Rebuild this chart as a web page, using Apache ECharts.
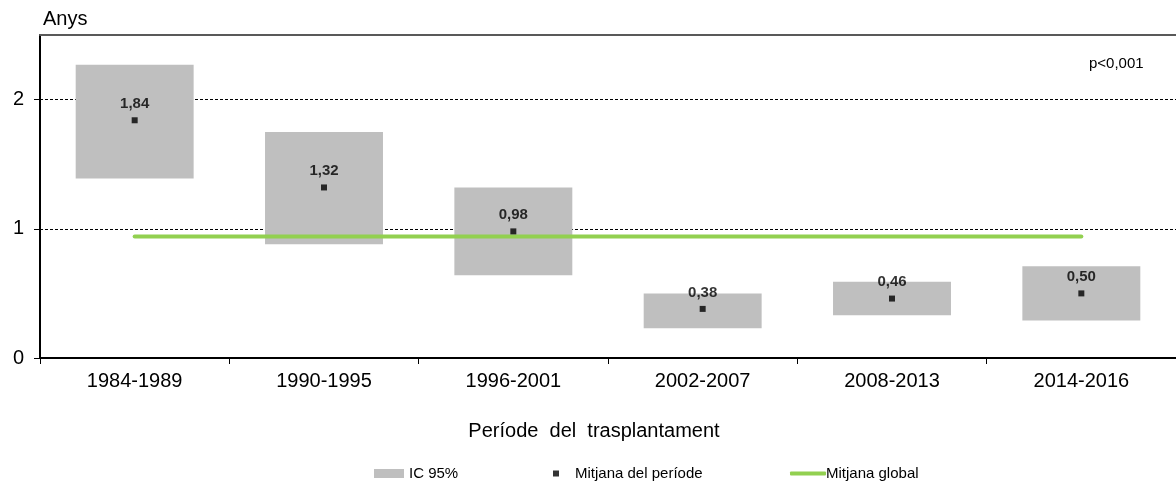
<!DOCTYPE html>
<html>
<head>
<meta charset="utf-8">
<script src="https://cdn.jsdelivr.net/npm/echarts@6/dist/echarts.min.js"></script>
<style>
  html, body { margin: 0; padding: 0; background: #fff; }
  #chart { width: 1176px; height: 487px; }
</style>
</head>
<body>
<div id="chart"></div>
<script>
// Transplant periods and mean time (years) with 95% confidence interval
const categories = ['1984-1989', '1990-1995', '1996-2001', '2002-2007', '2008-2013', '2014-2016'];
const means = [1.84, 1.32, 0.98, 0.38, 0.46, 0.50];
const ciLow = [1.39, 0.88, 0.64, 0.23, 0.33, 0.29];
const ciHigh = [2.27, 1.75, 1.32, 0.50, 0.59, 0.71];
const globalMean = 0.94;
const yTicks = [0, 1, 2];

const FONT = '"Liberation Sans", Arial, sans-serif';
const fmt = v => v.toFixed(2).replace('.', ',');

const chart = echarts.init(document.getElementById('chart'));

chart.setOption({
  animation: false,
  backgroundColor: '#fff',
  grid: { left: 40, right: 0, top: 35, bottom: 129 },
  xAxis: [
    {
      type: 'category',
      data: categories,
      axisLine: { lineStyle: { color: '#000', width: 2 } },
      axisTick: { show: true, length: 6, lineStyle: { color: '#000', width: 1 } },
      axisLabel: { color: '#000', fontFamily: FONT, fontSize: 20, margin: 13 },
      splitLine: { show: false }
    },
    {
      // top frame line of the plot area
      type: 'category',
      data: categories,
      position: 'top',
      axisLine: { lineStyle: { color: '#595959', width: 2 } },
      axisTick: { show: false },
      axisLabel: { show: false },
      splitLine: { show: false }
    }
  ],
  yAxis: {
    type: 'value',
    min: 0,
    max: 2.5,
    interval: 1,
    axisLine: { show: true, lineStyle: { color: '#000', width: 2 } },
    axisTick: { show: true, length: 6, customValues: yTicks, lineStyle: { color: '#000', width: 1 } },
    axisLabel: { color: '#000', fontFamily: FONT, fontSize: 20, margin: 16, customValues: yTicks },
    splitLine: { show: true, lineStyle: { color: '#000', width: 1, type: [3, 2] } }
  },
  legend: [
    {
      data: [{ name: 'IC 95%', icon: 'rect' }],
      left: 374, top: 466, padding: 0,
      itemWidth: 30, itemHeight: 9,
      textStyle: { color: '#000', fontFamily: FONT, fontSize: 15 }
    },
    {
      data: [{ name: 'Mitjana del període', icon: 'rect' }],
      left: 553, top: 466, padding: 0,
      itemWidth: 6, itemHeight: 6,
      textStyle: { color: '#000', fontFamily: FONT, fontSize: 15, padding: [0, 0, 0, 11] }
    },
    {
      data: [{ name: 'Mitjana global', icon: 'roundRect' }],
      left: 790, top: 466, padding: 0,
      itemWidth: 36, itemHeight: 4,
      textStyle: { color: '#000', fontFamily: FONT, fontSize: 15, padding: [0, 0, 0, -5] }
    }
  ],
  graphic: [
    {
      type: 'text', left: 43, top: 9,
      style: { text: 'Anys', fill: '#000', font: '20px ' + FONT }
    },
    {
      type: 'text', left: 1089, top: 56,
      style: { text: 'p<0,001', fill: '#000', font: '15px ' + FONT }
    },
    {
      type: 'text', x: 594, y: 431,
      style: { text: 'Període  del  trasplantament', fill: '#000', font: '20px ' + FONT,
               textAlign: 'center', textVerticalAlign: 'middle' }
    }
  ],
  series: [
    {
      name: 'IC 95%',
      type: 'custom',
      itemStyle: { color: '#BFBFBF' },
      encode: { x: 0, y: [1, 2] },
      data: categories.map((c, i) => [i, ciLow[i], ciHigh[i]]),
      renderItem: function (params, api) {
        const idx = api.value(0);
        const lo = api.coord([idx, api.value(1)]);
        const hi = api.coord([idx, api.value(2)]);
        const w = api.size([1, 0])[0] * 0.623;
        return {
          type: 'rect',
          shape: { x: lo[0] - w / 2, y: hi[1], width: w, height: lo[1] - hi[1] },
          style: { fill: '#BFBFBF' }
        };
      },
      z: 2
    },
    {
      name: 'Mitjana global',
      type: 'line',
      data: [[categories[0], globalMean], [categories[categories.length - 1], globalMean]],
      symbol: 'none',
      itemStyle: { color: '#92D050' },
      lineStyle: { color: '#92D050', width: 4, cap: 'round' },
      z: 3
    },
    {
      name: 'Mitjana del període',
      type: 'scatter',
      data: means,
      symbol: 'rect',
      symbolSize: 6,
      itemStyle: { color: '#000' },
      label: {
        show: true,
        position: 'top',
        distance: 6,
        formatter: p => fmt(p.value),
        color: '#000',
        fontFamily: FONT,
        fontSize: 15,
        fontWeight: 'bold'
      },
      z: 4
    }
  ]
});
</script>
</body>
</html>
